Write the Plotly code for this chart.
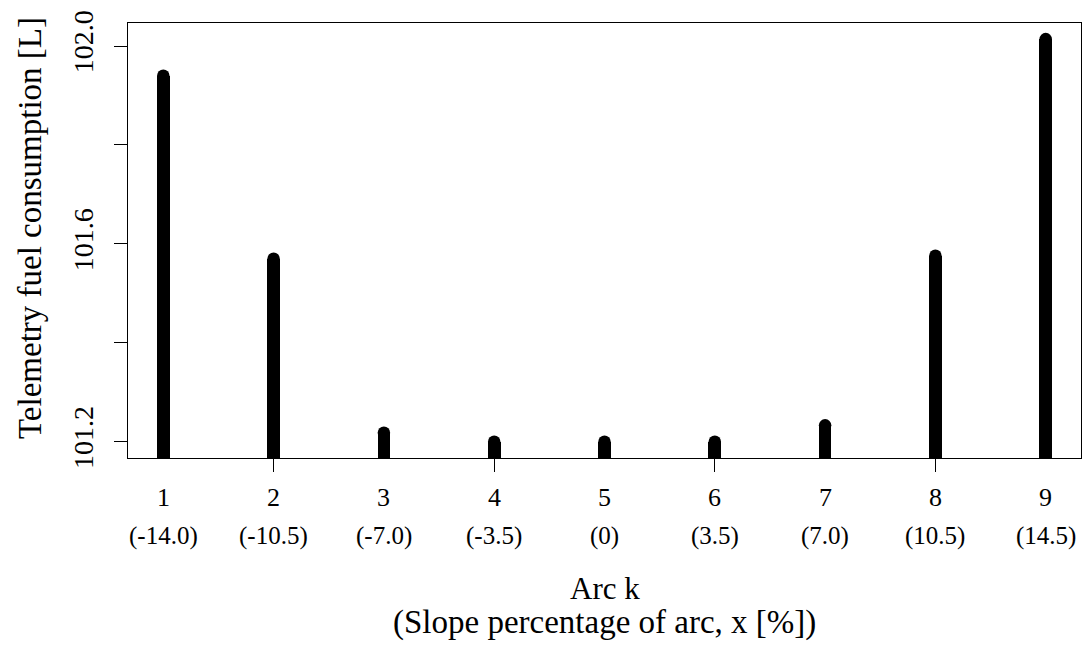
import plotly.graph_objects as go

# Arc index, slope of each arc and telemetry fuel consumption
arcs = [1, 2, 3, 4, 5, 6, 7, 8, 9]
slopes = ["(-14.0)", "(-10.5)", "(-7.0)", "(-3.5)", "(0)", "(3.5)", "(7.0)", "(10.5)", "(14.5)"]
fuel = [101.940, 101.570, 101.218, 101.200, 101.200, 101.200, 101.233, 101.576, 102.014]

y_ticks = [101.2, 101.4, 101.6, 101.8, 102.0]
y_tick_text = ["101.2", "", "101.6", "", "102.0"]
x_ticks = [2, 4, 6, 8]

FONT = "Liberation Serif, Times New Roman, serif"
W, H = 1083, 652
L, R, T, B = 128, 2, 23, 194
plot_w = W - L - R
plot_h = H - T - B


def below_axis(px):
    # pixel row under the plot area -> paper coordinate
    return -(px - (H - B)) / plot_h


fig = go.Figure()

# vertical "h"-type lines: thick bars rising from below the axis
fig.add_trace(go.Bar(
    x=arcs, y=[v - 100 for v in fuel], base=100,
    width=0.115, marker=dict(color="black", line=dict(width=0)),
    hoverinfo="skip", showlegend=False,
))
# rounded line ends
fig.add_trace(go.Scatter(
    x=arcs, y=fuel, mode="markers",
    marker=dict(symbol="circle", size=12.5, color="black", line=dict(width=0)),
    hoverinfo="skip", showlegend=False, cliponaxis=False,
))

fig.update_layout(
    width=W, height=H,
    margin=dict(l=L, r=R, t=T, b=B, pad=0),
    paper_bgcolor="white", plot_bgcolor="white",
    font=dict(family=FONT, size=26, color="black"),
    bargap=0,
    xaxis=dict(
        range=[0.68, 9.32], tickmode="array", tickvals=x_ticks,
        ticktext=["" for _ in x_ticks],
        ticks="outside", ticklen=13, tickwidth=1, tickcolor="black",
        showline=True, linecolor="black", linewidth=1, mirror=True,
        showgrid=False, zeroline=False, fixedrange=True,
    ),
    yaxis=dict(
        range=[101.167, 102.0465], tickmode="array", tickvals=y_ticks,
        ticktext=y_tick_text, tickangle=-90,
        ticks="outside", ticklen=13, tickwidth=1, tickcolor="black",
        ticklabelstandoff=10,
        tickfont=dict(family=FONT, size=28, color="black"),
        showline=True, linecolor="black", linewidth=1, mirror=True,
        showgrid=False, zeroline=False, fixedrange=True,
    ),
)

# arc numbers and slope labels under each arc
for a, s in zip(arcs, slopes):
    fig.add_annotation(x=a, y=below_axis(498), xref="x", yref="paper",
                       text=str(a), showarrow=False, xanchor="center", yanchor="middle",
                       font=dict(family=FONT, size=26, color="black"))
    fig.add_annotation(x=a, y=below_axis(536), xref="x", yref="paper",
                       text=s, showarrow=False, xanchor="center", yanchor="middle",
                       font=dict(family=FONT, size=25, color="black"))

# axis titles
fig.add_annotation(x=0.5, y=below_axis(588), xref="paper", yref="paper",
                   text="Arc k", showarrow=False, xanchor="center", yanchor="middle",
                   font=dict(family=FONT, size=31, color="black"))
fig.add_annotation(x=0.5, y=below_axis(622), xref="paper", yref="paper",
                   text="(Slope percentage of arc, x [%])", showarrow=False,
                   xanchor="center", yanchor="middle",
                   font=dict(family=FONT, size=33, color="black"))
fig.add_annotation(x=-(L - 30) / plot_w, y=(H - B - 228) / plot_h, xref="paper", yref="paper",
                   text="Telemetry fuel consumption [L]", showarrow=False, textangle=-90,
                   xanchor="center", yanchor="middle",
                   font=dict(family=FONT, size=33, color="black"))

fig.write_html("out.html")
